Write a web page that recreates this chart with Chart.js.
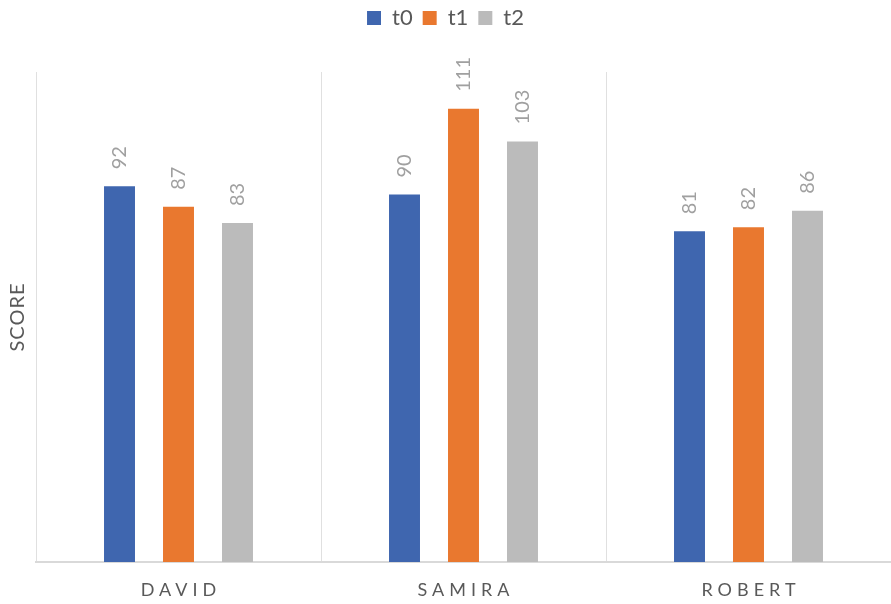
<!DOCTYPE html>
<html>
<head>
<meta charset="utf-8">
<script src="https://cdn.jsdelivr.net/npm/chart.js@4"></script>
<style>
  html, body { margin: 0; padding: 0; background: #fff; }
  #wrap { width: 891px; height: 604px; }
</style>
</head>
<body>
<div id="wrap"><canvas id="chart"></canvas></div>
<script>
const categories = ["DAVID", "SAMIRA", "ROBERT"];
const seriesNames = ["t0", "t1", "t2"];
const t0Values = [92, 90, 81];
const t1Values = [87, 111, 82];
const t2Values = [83, 103, 86];
const yTitle = "SCORE";

const colors = ["#3F66AF", "#E9782F", "#BBBBBB"];
const fontFamily = "Lato, 'Open Sans', sans-serif";

// make the legend box taller so the plot starts lower
const legendHeight = {
  id: "legendHeight",
  beforeInit(chart) {
    const fit = chart.legend.fit;
    chart.legend.fit = function () {
      fit.bind(chart.legend)();
      this.height = 75;
    };
  },
};

// rotated value labels above the bars
const valueLabels = {
  id: "valueLabels",
  afterDatasetsDraw(chart) {
    const ctx = chart.ctx;
    chart.data.datasets.forEach((ds, i) => {
      const meta = chart.getDatasetMeta(i);
      meta.data.forEach((bar, j) => {
        ctx.save();
        ctx.translate(bar.x, bar.y - 17);
        ctx.rotate(-Math.PI / 2);
        ctx.font = "20px " + fontFamily;
        ctx.fillStyle = "#A0A0A0";
        ctx.textAlign = "left";
        ctx.textBaseline = "middle";
        ctx.fillText(String(ds.data[j]), 0, 0);
        ctx.restore();
      });
    });
  },
};

// category labels with letter spacing + y title
const axisText = {
  id: "axisText",
  afterDraw(chart) {
    const ctx = chart.ctx;
    const x = chart.scales.x;
    const area = chart.chartArea;
    ctx.save();
    ctx.font = "18px " + fontFamily;
    ctx.fillStyle = "#595959";
    ctx.textAlign = "center";
    ctx.textBaseline = "middle";
    ctx.letterSpacing = "5px";
    categories.forEach((c, i) => {
      ctx.fillText(c, x.getPixelForValue(i) + 2.5, 590);
    });
    ctx.letterSpacing = "1px";
    ctx.translate(17.5, (area.top + area.bottom) / 2);
    ctx.rotate(-Math.PI / 2);
    ctx.font = "20px " + fontFamily;
    ctx.fillText(yTitle, 0, 0);
    ctx.restore();
  },
};

const ctx = document.querySelector("#chart").getContext("2d");

new Chart(ctx, {
  type: "bar",
  data: {
    labels: categories,
    datasets: [
      { label: seriesNames[0], data: t0Values, backgroundColor: colors[0] },
      { label: seriesNames[1], data: t1Values, backgroundColor: colors[1] },
      { label: seriesNames[2], data: t2Values, backgroundColor: colors[2] },
    ],
  },
  options: {
    responsive: true,
    maintainAspectRatio: false,
    animation: false,
    layout: { padding: { left: 0, right: 0, top: -3, bottom: 42 } },
    datasets: {
      bar: { categoryPercentage: 0.621, barPercentage: 0.525 },
    },
    scales: {
      x: {
        grid: { color: "#E0E0E0", lineWidth: 1, drawTicks: false, offset: true },
        border: { display: true, color: "#D9D9D9", width: 2 },
        ticks: { display: false },
      },
      y: {
        min: 0,
        max: 120,
        grid: { display: false },
        border: { display: false },
        ticks: { display: false },
        afterFit(scale) {
          scale.width = 36;
        },
      },
    },
    plugins: {
      legend: {
        position: "top",
        labels: {
          boxWidth: 14,
          boxHeight: 14,
          padding: 10,
          color: "#595959",
          font: { size: 22, family: fontFamily },
        },
      },
      tooltip: { enabled: false },
    },
  },
  plugins: [legendHeight, valueLabels, axisText],
});
</script>
</body>
</html>
